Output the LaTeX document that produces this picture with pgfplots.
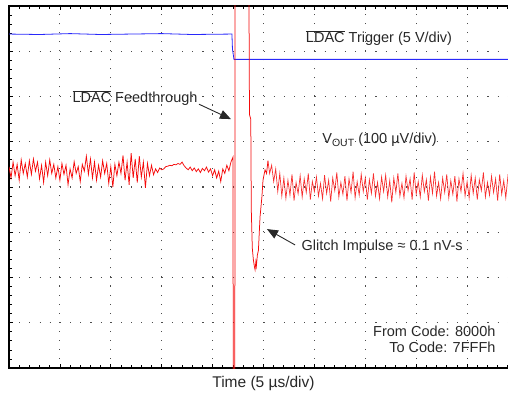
\documentclass[border=0pt]{standalone}
\usepackage{pgfplots}
\pgfplotsset{compat=1.18}
\usepackage{pgfplotstable}
\usepackage{fontspec}
\setmainfont{Liberation Sans}
\usetikzlibrary{arrows.meta}

\definecolor{trig}{RGB}{40,40,250}
\definecolor{vout}{RGB}{245,10,10}
\definecolor{txt}{RGB}{40,40,40}

% trigger trace (divisions, 0 = bottom)
\pgfplotstableread{
x y
0.0 7.38
3.0 7.37
6.0 7.39
9.0 7.37
12.0 7.38
15.0 7.39
18.0 7.37
21.9 7.38
21.95 7.05
22.1 6.82
50.0 6.82
}\trig

% Vout before the LDAC edge
\pgfplotstableread{
x y
0.0 4.45
0.2 4.20
0.4 4.55
0.6 4.25
0.8 4.50
1.0 4.15
1.2 4.60
1.4 4.30
1.6 4.52
1.8 4.22
2.0 4.58
2.2 4.28
2.4 4.62
2.6 4.35
2.8 4.55
3.0 4.18
3.2 4.48
3.4 4.10
3.6 4.55
3.8 4.25
4.0 4.60
4.2 4.30
4.4 4.50
4.6 4.20
4.8 4.45
5.0 4.15
5.2 4.52
5.4 4.28
5.6 4.48
5.8 4.05
6.0 4.40
6.2 4.20
6.4 4.56
6.6 4.30
6.8 4.45
7.0 4.12
7.2 4.50
7.4 4.35
7.6 4.68
7.8 4.28
8.0 4.62
8.2 4.20
8.4 4.55
8.6 4.15
8.8 4.48
9.0 4.22
9.2 4.58
9.4 4.30
9.6 4.52
9.8 4.08
10.0 4.45
10.2 4.00
10.4 4.50
10.6 4.25
10.8 4.55
11.0 4.30
11.2 4.70
11.4 4.15
11.6 4.55
11.8 4.05
12.0 4.75
12.2 4.20
12.4 4.62
12.6 4.10
12.8 4.68
13.0 4.22
13.2 4.55
13.4 3.98
13.6 4.52
13.8 4.25
14.0 4.48
14.2 4.27
14.4 4.40
14.6 4.32
14.8 4.42
15.0 4.38
15.2 4.40
15.4 4.45
15.6 4.46
15.8 4.48
16.0 4.47
16.2 4.50
16.4 4.49
16.6 4.52
16.8 4.50
17.0 4.55
17.2 4.47
17.4 4.42
17.6 4.38
17.8 4.44
18.0 4.36
18.2 4.42
18.4 4.34
18.6 4.40
18.8 4.32
19.0 4.41
19.2 4.36
19.4 4.44
19.6 4.33
19.8 4.40
20.0 4.25
20.2 4.38
20.4 4.20
20.6 4.35
20.8 4.12
21.0 4.40
21.2 4.30
21.4 4.48
21.6 4.36
21.8 4.55
22.0 4.66
22.03 -0.6
22.18 -0.6
22.21 8.6
23.55 8.6
23.6 7.0
23.62 5.6
23.75 5.5
23.8 3.5
23.9 2.65
24.0 2.40
24.1 2.25
24.17 2.17
24.25 2.35
24.3 2.25
24.4 2.50
24.5 2.60
24.66 3.34
24.85 3.80
24.95 4.15
25.15 4.38
25.3 4.30
25.44 4.58
}\voutA

% Vout after the glitch
\pgfplotstableread{
x y
25.44 4.58
25.6 4.30
25.8 4.48
26.0 4.12
26.2 4.40
26.4 3.90
26.6 4.30
26.8 3.80
27.0 4.20
27.2 3.75
27.4 4.15
27.6 3.82
27.8 4.28
28.0 3.70
28.2 4.10
28.4 3.85
28.6 4.25
28.8 3.78
29.0 4.18
29.2 3.88
29.4 4.30
29.6 3.72
29.8 4.12
30.0 3.90
30.2 4.22
30.4 3.80
30.6 4.08
30.8 3.74
31.0 4.26
31.2 3.86
31.4 4.15
31.6 3.68
31.8 4.20
32.0 3.92
32.2 4.32
32.4 3.78
32.6 4.10
32.8 3.84
33.0 4.24
33.2 3.70
33.4 4.18
33.6 3.88
33.8 4.34
34.0 3.76
34.2 4.12
34.4 3.82
34.6 4.28
34.8 3.90
35.0 4.20
35.2 3.72
35.4 4.16
35.6 3.86
35.8 4.30
36.0 3.80
36.2 4.10
36.4 3.74
36.6 4.22
36.8 3.90
37.0 4.26
37.2 3.78
37.4 4.14
37.6 3.66
37.8 4.20
38.0 3.88
38.2 4.30
38.4 3.80
38.6 4.08
38.8 3.76
39.0 4.24
39.2 3.92
39.4 4.18
39.6 3.72
39.8 4.32
40.0 3.84
40.2 4.12
40.4 3.78
40.6 4.26
40.8 3.90
41.0 4.16
41.2 3.70
41.4 4.22
41.6 3.86
41.8 4.34
42.0 3.80
42.2 4.10
42.4 3.74
42.6 4.20
42.8 3.88
43.0 4.28
43.2 3.76
43.4 4.14
43.6 3.84
43.8 4.24
44.0 3.68
44.2 4.18
44.4 3.90
44.6 4.30
44.8 3.80
45.0 4.12
45.2 3.76
45.4 4.26
45.6 3.86
45.8 4.20
46.0 3.72
46.2 4.16
46.4 3.92
46.6 4.32
46.8 3.78
47.0 4.10
47.2 3.82
47.4 4.24
47.6 3.88
47.8 4.18
48.0 3.70
48.2 4.28
48.4 3.84
48.6 4.14
48.8 3.76
49.0 4.22
49.2 3.90
49.4 4.30
49.6 3.80
49.8 4.12
50.0 3.95
}\voutB

\newcommand{\ldac}{$\overline{\hbox{LDAC}}$}

\begin{document}
\begin{tikzpicture}[font=\fontsize{14.5}{17}\selectfont]
\begin{axis}[
    name=ax,
    scale only axis,
    width=509pt, height=362pt,
    xmin=0, xmax=50, ymin=0, ymax=8,
    xtick={0,5,...,50}, ytick={0,1,...,8},
    minor x tick num=4, minor y tick num=4,
    xticklabels={}, yticklabels={},
    tick align=inside,
    tick pos=both,
    major tick length=4pt, minor tick length=3pt,
    every tick/.style={black, line width=0.8pt},
    axis line style={black, line width=1.6pt},
    grid=major,
    major x grid style={black!70, line width=1.1pt, dash pattern=on 1.1pt off 7.95pt},
    major y grid style={black!70, line width=1.1pt, dash pattern=on 1.1pt off 9.08pt},
]
\addplot[trig, line width=0.8pt] table {\trig};
\addplot[vout, line width=0.75pt] table {\voutA};
\addplot[vout!85, line width=0.7pt] table {\voutB};

\coordinate (sw) at (rel axis cs:0,0);
\coordinate (ne) at (rel axis cs:1,1);
\coordinate (bot) at (rel axis cs:0.5,0);

\node[txt] at (axis cs:36.35,7.29) {\ldac{} Trigger (5 V/div)};
\node[txt] at (axis cs:36.4,5.04) {V\raisebox{-0.35ex}{\fontsize{10.5}{12}\selectfont OUT} (100 µV/div)};
\node[txt] at (axis cs:12.38,5.97) {\ldac{} Feedthrough};
\draw[txt, line width=0.9pt, -{Triangle[length=11pt,width=9pt]}] (axis cs:18.66,5.83) -- (axis cs:21.8,5.50);
\draw[txt, line width=0.9pt, -{Triangle[length=11pt,width=9pt]}] (axis cs:28.1,2.72) -- (axis cs:25.34,3.07);
\node[txt, anchor=west] at (axis cs:28.4,2.67) {Glitch Impulse ≈ 0.1 nV-s};
\node[txt, anchor=east] at (axis cs:48.13,0.80) {From Code: 8000h};
\node[txt, anchor=east] at (axis cs:48.13,0.46) {To Code: 7FFFh};
\end{axis}
\node[txt, font=\fontsize{15.5}{18}\selectfont] at ([yshift=-15pt]bot) {Time (5 µs/div)};
\pgfresetboundingbox
\useasboundingbox ([xshift=-9pt,yshift=-26pt]sw) rectangle ([xshift=-10pt,yshift=6pt]ne);
\end{tikzpicture}
\end{document}
